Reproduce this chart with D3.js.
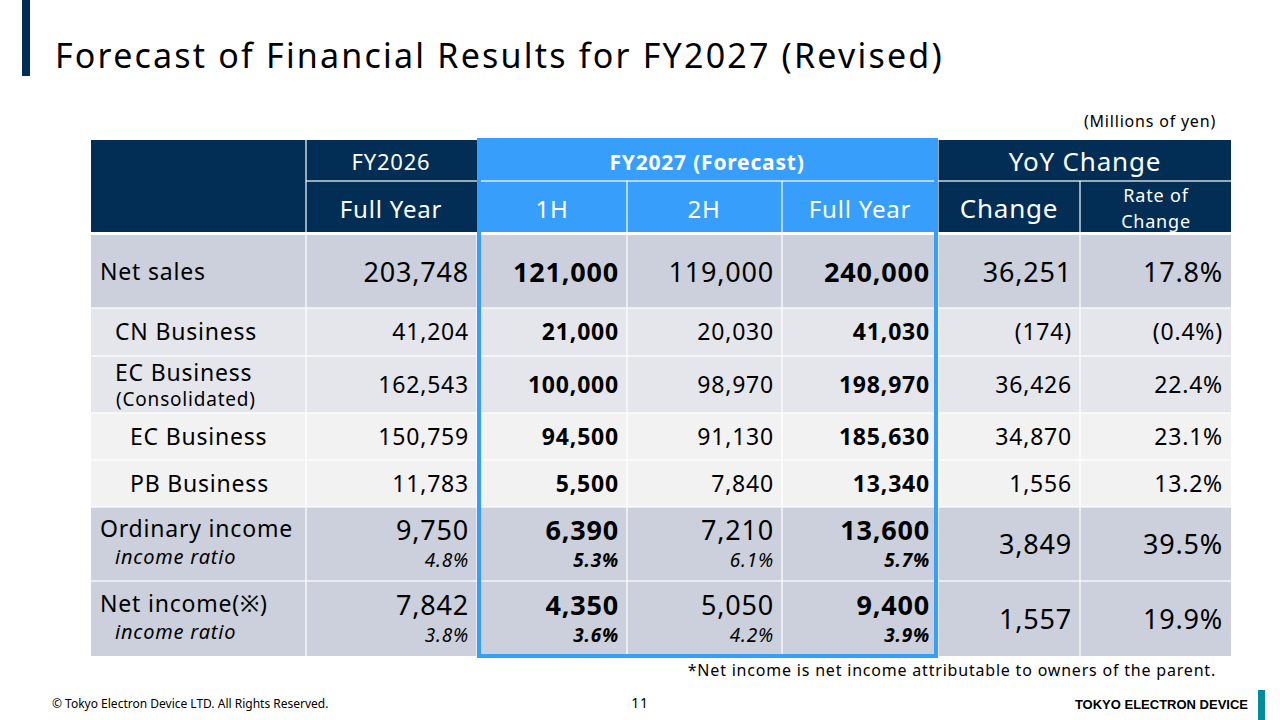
<!DOCTYPE html>
<html><head><meta charset="utf-8">
<script src="https://cdn.jsdelivr.net/npm/d3@7"></script>
<style>body{margin:0;background:#fff;font-family:"Noto Sans",sans-serif}svg text{letter-spacing:0.8px}</style>
</head><body><svg id="c" width="1280" height="720"></svg>
<script>
const rowLabels=["Net sales","CN Business","EC Business","EC Business","PB Business","Ordinary income","Net income(※)"];
const rowSubLabels=["","","(Consolidated)","","","income ratio","income ratio"];
const fy2026=["203,748","41,204","162,543","150,759","11,783","9,750","7,842"];
const h1=["121,000","21,000","100,000","94,500","5,500","6,390","4,350"];
const h2=["119,000","20,030","98,970","91,130","7,840","7,210","5,050"];
const fullYear=["240,000","41,030","198,970","185,630","13,340","13,600","9,400"];
const change=["36,251","(174)","36,426","34,870","1,556","3,849","1,557"];
const rate=["17.8%","(0.4%)","22.4%","23.1%","13.2%","39.5%","19.9%"];
const ratio26=["","","","","","4.8%","3.8%"];
const ratioH1=["","","","","","5.3%","3.6%"];
const ratioH2=["","","","","","6.1%","4.2%"];
const ratioFY=["","","","","","5.7%","3.9%"];

const svg=d3.select("#c");
const navy="#022d55", blue="#379ffb";
svg.append("rect").attr("x",22).attr("y",0).attr("width",8).attr("height",76).attr("fill",navy);
svg.append("text").attr("x",55).attr("y",68).attr("font-size",34).style("letter-spacing","2.2px").attr("fill","#000").text("Forecast of Financial Results for FY2027 (Revised)");
svg.append("text").attr("x",1216).attr("y",127).attr("text-anchor","end").attr("font-size",16).text("(Millions of yen)");

const colX=[91,306,477,627,782,938,1080,1231];
const rowY=[235,308,356,413,460,507,581,656];
const rowFill=["#cbd0dc","#e4e6ec","#e4e6ec","#f2f2f2","#f2f2f2","#cbd0dc","#cbd0dc"];
const cols=[fy2026,h1,h2,fullYear,change,rate];
const subs=[ratio26,ratioH1,ratioH2,ratioFY,null,null];
const bold=[false,true,false,true,false,false];
const labelX=[100,115,115,130,130,100,100];

svg.append("rect").attr("x",91).attr("y",140).attr("width",386).attr("height",92).attr("fill",navy);
svg.append("rect").attr("x",938).attr("y",140).attr("width",293).attr("height",92).attr("fill",navy);
svg.append("rect").attr("x",477).attr("y",140).attr("width",461).attr("height",92).attr("fill",blue);
const hl=(x1,y1,x2,y2)=>svg.append("line").attr("x1",x1).attr("y1",y1).attr("x2",x2).attr("y2",y2).attr("stroke","#fff").attr("stroke-opacity",0.8).attr("stroke-width",1.5);
hl(306,140,306,232);hl(306,181,477,181);hl(481,181,934,181);hl(938,181,1231,181);
hl(627,181,627,232);hl(782,181,782,232);hl(1080,181,1080,232);hl(938,140,938,232);
const ht=(x,y,t,s,w)=>svg.append("text").attr("x",x).attr("y",y).attr("text-anchor","middle").attr("fill","#fff").attr("font-size",s).attr("font-weight",w||"normal").text(t);
ht(391,170,"FY2026",22);ht(391,218,"Full Year",24);
ht(707,170,"FY2027 (Forecast)",21,"bold");
ht(552,218,"1H",24);ht(704,218,"2H",24);ht(860,218,"Full Year",24);
ht(1085,171,"YoY Change",26);ht(1009,218,"Change",26);
ht(1156,202,"Rate of",18);ht(1156,228,"Change",18);

rowLabels.forEach((lab,i)=>{
  const y0=rowY[i],y1=rowY[i+1],cy=(y0+y1)/2;
  svg.append("rect").attr("x",91).attr("y",y0).attr("width",1140).attr("height",y1-y0).attr("fill",rowFill[i]);
  const sub=rowSubLabels[i];
  if(sub){
    const big=i>=5;
    svg.append("text").attr("x",labelX[i]).attr("y",cy-(big?7:4)).attr("font-size",23).text(lab);
    svg.append("text").attr("x",big?115:116).attr("y",cy+(big?20:21)).attr("font-size",big?20:19).attr("font-style",big?"italic":"normal").text(sub);
  } else {
    svg.append("text").attr("x",labelX[i]).attr("y",cy+8).attr("font-size",23).text(lab);
  }
  cols.forEach((c,j)=>{
    const rx=colX[j+2]-8, hasSub=subs[j]&&subs[j][i];
    const fs=(i==0||i>=5)?27:23;
    svg.append("text").attr("x",rx).attr("y",hasSub?cy-4:cy+(fs==27?10:8)).attr("text-anchor","end")
      .attr("font-size",fs).attr("font-weight",bold[j]?"bold":"normal").text(c[i]);
    if(hasSub) svg.append("text").attr("x",rx).attr("y",cy+23).attr("text-anchor","end")
      .attr("font-size",19).attr("font-style","italic").attr("font-weight",bold[j]?"bold":"normal").text(subs[j][i]);
  });
});
rowY.slice(1,-1).forEach(y=>hl(91,y,1231,y));
colX.slice(1,-1).forEach(cx=>hl(cx,235,cx,656));
svg.append("rect").attr("x",479).attr("y",140).attr("width",457).attr("height",516).attr("fill","none").attr("stroke",blue).attr("stroke-width",4);

svg.append("text").attr("x",1216).attr("y",676).attr("text-anchor","end").attr("font-size",16).text("*Net income is net income attributable to owners of the parent.");
svg.append("text").attr("x",52).attr("y",708).attr("font-size",12).style("letter-spacing","0px").text("© Tokyo Electron Device LTD. All Rights Reserved.");
svg.append("text").attr("x",640).attr("y",708).attr("text-anchor","middle").attr("font-size",14).text("11");
svg.append("text").attr("x",1248).attr("y",709).attr("text-anchor","end").attr("font-size",13).attr("font-weight","bold").style("letter-spacing","0px").attr("font-family","Liberation Sans").text("TOKYO ELECTRON DEVICE");
svg.append("rect").attr("x",1258).attr("y",690).attr("width",7).attr("height",30).attr("fill","#008c9a");
</script></body></html>
